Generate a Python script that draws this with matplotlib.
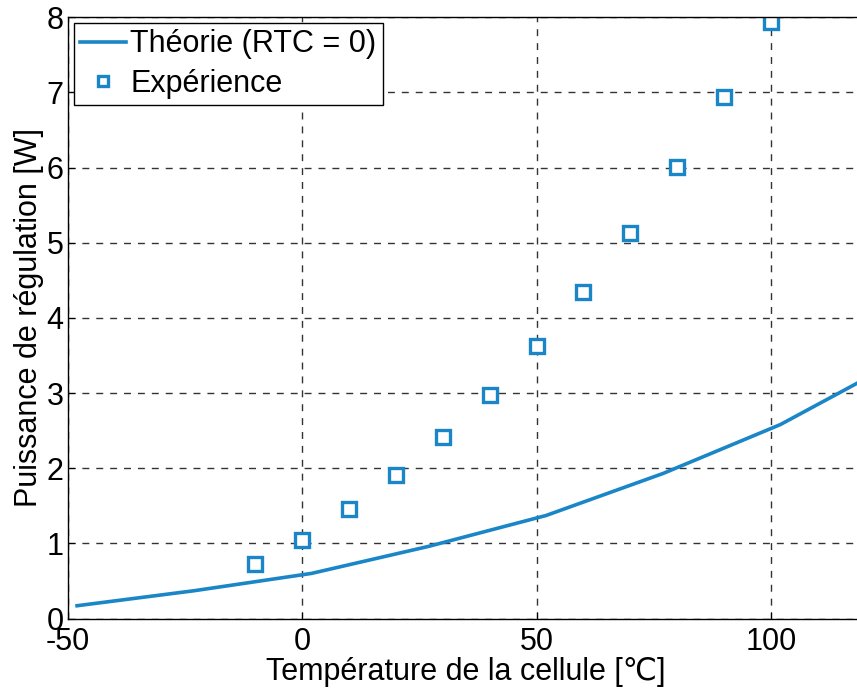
import matplotlib
matplotlib.use("Agg")
import matplotlib.pyplot as plt

plt.rcParams['font.family'] = ['Liberation Sans', 'DejaVu Sans']
plt.rcParams['axes.unicode_minus'] = False

# theory curve (RTC = 0)
theory_temp = [-48, -23, 2, 27, 52, 77, 102, 127]
theory_power = [0.17, 0.37, 0.60, 0.96, 1.37, 1.93, 2.58, 3.42]

# measured points
exp_temp = [-10, 0, 10, 20, 30, 40, 50, 60, 70, 80, 90, 100]
exp_power = [0.72, 1.05, 1.46, 1.91, 2.41, 2.97, 3.62, 4.34, 5.13, 6.01, 6.94, 7.94]

blue = '#1a86c8'

fig = plt.figure(figsize=(8.57, 6.88), dpi=100)
ax = fig.add_axes([0.079, 0.101, 0.93, 0.874])

ax.plot(theory_temp, theory_power, '-', color=blue, lw=2.6, label='Théorie (RTC = 0)')
ax.plot(exp_temp, exp_power, 's', color=blue, mfc='white', mec=blue, ms=10, mew=2.4,
        ls='none', label='Expérience')

ax.set_xlim(-50, 120)
ax.set_ylim(0, 8)
ax.set_xticks([-50, 0, 50, 100])
ax.set_yticks(range(9))
ax.grid(True, ls=(0, (5, 5)), color='#333333', lw=1.0)
ax.tick_params(direction='in', labelsize=22, length=5)
ax.tick_params(axis='x', pad=6)
ax.tick_params(axis='y', pad=3)
for s in ax.spines.values():
    s.set_linewidth(1.0)

ax.set_xlabel('Température de la cellule [℃]', fontsize=22, labelpad=0)
ax.set_ylabel('Puissance de régulation [W]', fontsize=22, labelpad=2)

leg = ax.legend(loc='upper left', fontsize=22, frameon=True, fancybox=False,
                edgecolor='black', framealpha=1, borderpad=0.2, handlelength=1.5,
                handletextpad=0.15, labelspacing=0.3, borderaxespad=0.2,
                markerscale=0.75)
leg.get_frame().set_linewidth(1.0)

fig.savefig('out.png', dpi=100)
